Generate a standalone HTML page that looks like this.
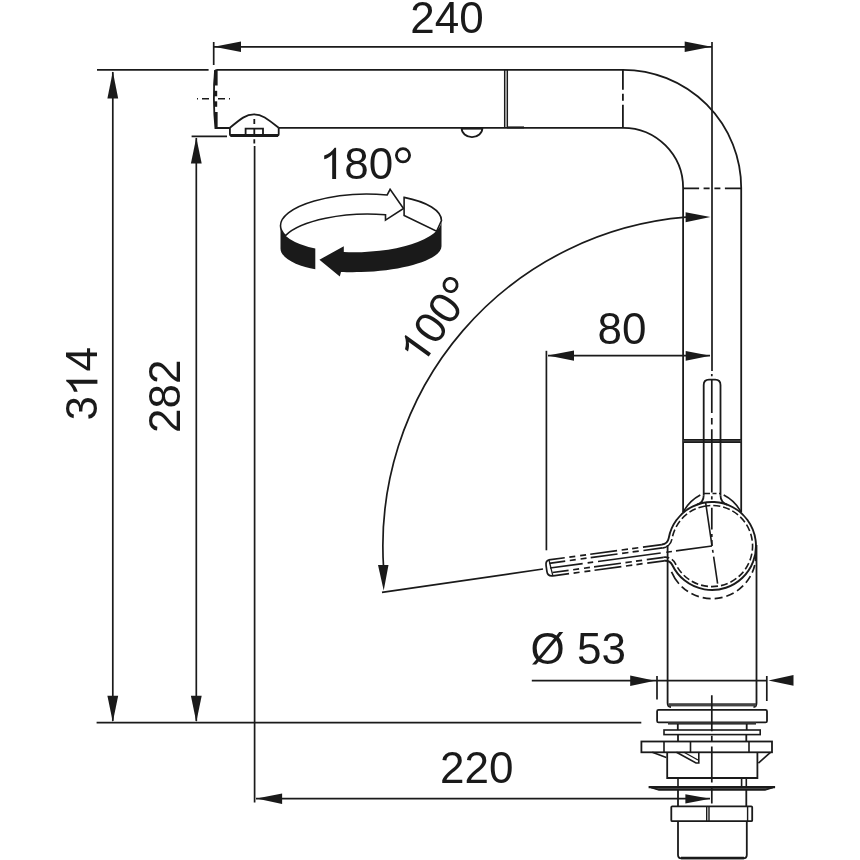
<!DOCTYPE html>
<html><head><meta charset="utf-8"><style>
html,body{margin:0;padding:0;background:#fff;width:860px;height:860px;overflow:hidden}
svg{display:block;will-change:transform}
text{font-family:"Liberation Sans",sans-serif;font-size:44px;fill:#1a1a1a}
</style></head><body>
<svg width="860" height="860" viewBox="0 0 860 860">
<rect width="860" height="860" fill="#fff"/>
<g fill="none" stroke="#1a1a1a" stroke-width="1.7" stroke-linecap="butt">
<!-- 240 dimension -->
<line x1="213.7" y1="42" x2="213.7" y2="65"/>
<line x1="214" y1="46.8" x2="712" y2="46.8"/>
<line x1="712" y1="42" x2="712" y2="371"/>
<!-- 314 -->
<line x1="97" y1="69.8" x2="208.6" y2="69.8"/>
<line x1="112.8" y1="72" x2="112.8" y2="721"/>
<line x1="96.6" y1="722.6" x2="641.3" y2="722.6"/>
<!-- 282 -->
<line x1="191.6" y1="136.4" x2="227" y2="136.4"/>
<line x1="196.3" y1="138" x2="196.3" y2="721"/>
<!-- 220 -->
<line x1="254.6" y1="146" x2="254.6" y2="802.4"/>
<line x1="256" y1="798.6" x2="710" y2="798.6"/>
<!-- 80 -->
<line x1="546.4" y1="350.8" x2="546.4" y2="550.3"/>
<line x1="548" y1="355.6" x2="710" y2="355.6"/>
<!-- 53 -->
<line x1="531.8" y1="680.7" x2="766.8" y2="680.7"/>
<line x1="657" y1="676" x2="657" y2="699.5"/>
<line x1="766.8" y1="676" x2="766.8" y2="701"/>
<!-- 100 deg arc -->
<path d="M 686 217.2 A 330 330 0 0 0 383.6 568"/>
<line x1="382" y1="592.3" x2="543" y2="569"/>
</g>
<g fill="#1a1a1a" stroke="none">
<polygon points="214,46.8 241,41.6 241,52.1"/>
<polygon points="711.5,46.8 684.7,41.5 684.7,52.1"/>
<polygon points="112.8,71.5 107.4,98.4 118.2,98.4"/>
<polygon points="112.8,722 107.4,695.8 118.2,695.8"/>
<polygon points="196.3,137.5 190.9,163.5 201.7,163.5"/>
<polygon points="196.3,722 190.9,695.8 201.7,695.8"/>
<polygon points="256.5,798.6 282.1,793.5 282.1,804"/>
<polygon points="710.2,798.8 685.4,794.2 685.4,803.5"/>
<polygon points="547.8,355.6 574,350.5 574,360.7"/>
<polygon points="710.3,355.8 685.7,350.9 685.7,360.8"/>
<polygon points="655,680.7 630.2,675.5 630.2,686"/>
<polygon points="768.4,680.5 793.5,675.1 793.5,685.8"/>
<polygon points="710.4,217.1 685.6,212.2 685.6,222.3"/>
<polygon points="383.7,590.5 378,565 388.5,565"/>
</g>

<!-- ===== FAUCET ===== -->
<g fill="none" stroke="#1a1a1a" stroke-width="1.8">
<!-- spout -->
<path d="M215 72 Q215 69.8 217.5 69.8 H623"/>
<path d="M215 70.5 Q212.6 99 215.4 128 H229.9"/>
<path d="M278.7 127.8 H623"/>
<line x1="504.7" y1="69.8" x2="504.7" y2="127.8" stroke-width="1.5"/>
<line x1="507.3" y1="69.8" x2="507.3" y2="127.8" stroke-width="1.5"/>
<path d="M461.6 128 A10.4 9.2 0 0 0 482.4 128"/>
<line x1="461.5" y1="128.4" x2="482.5" y2="128.4" stroke-width="2.4"/>
<line x1="507" y1="127.4" x2="524" y2="127.4" stroke-width="2"/>
<!-- aerator -->
<path d="M229.9 127.8 C241 118.5 246 114.4 254 114.4 C262 114.4 267 118.5 278.7 127.8"/>
<path d="M229.9 127.8 V134 Q229.9 135.8 232 135.8 H276.6 Q278.7 135.8 278.7 134 V127.8"/>
<line x1="230.5" y1="135.6" x2="278" y2="135.6" stroke-width="3"/>
<path d="M245.6 135.5 V128.7 H263 V135.5"/>
<line x1="254.3" y1="119" x2="254.3" y2="146" stroke-dasharray="5 4.8 5.6 4.8 4.2 3"/>
<line x1="197" y1="98.8" x2="231" y2="98.8" stroke-width="1.5" stroke-dasharray="1 4 7 9 7 4 1"/>
<!-- elbow -->
<path d="M623 69.8 A118.2 118.2 0 0 1 741.2 188"/>
<path d="M623 127.8 A60.1 60.1 0 0 1 683.1 188"/>
<line x1="622.9" y1="69.8" x2="622.9" y2="127.8" stroke-dasharray="20 4 7 4 100"/>
<line x1="683.1" y1="188.3" x2="741.2" y2="188.3" stroke-dasharray="16 4.5 6 4.8 6 4.5 20"/>
<!-- tube -->
<line x1="683.1" y1="188" x2="683.1" y2="512.5"/>
<line x1="741.2" y1="188" x2="741.2" y2="512.5"/>
<line x1="683.1" y1="440.9" x2="741.2" y2="440.9" stroke-width="3.7" stroke="#3a3a3a"/>
<line x1="683.1" y1="439.5" x2="741.2" y2="439.5" stroke-width="1.2"/>
<line x1="683.1" y1="442.3" x2="741.2" y2="442.3" stroke-width="1.2"/>
<!-- upright lever -->
<path d="M703.7 495.3 V385 Q703.7 379.6 709 379.6 H715.2 Q720.5 379.6 720.5 385 V495.3" stroke-width="1.8"/>
<path d="M703.7 495.2 A10 10 0 0 1 697.1 504.6" stroke-width="1.8"/>
<path d="M720.5 495.27 A10 10 0 0 0 727.07 504.67" stroke-width="1.8"/>
<line x1="704" y1="493.5" x2="720.3" y2="493.5" stroke-width="1.4" stroke-dasharray="6 2.5 4 2.5 6"/>
<line x1="711.8" y1="371" x2="711.8" y2="546" stroke-width="1.7" stroke-dasharray="0 3 2.3 2.9 33.7 5.2 6.4 4.7 63.2 3.9 3.2 8.3 21.7 4.5 3 3 20"/>
<!-- ball -->
<path d="M683.1 512.5 A40 40 0 0 1 700.3 495" stroke-width="1.7"/>
<path d="M723.7 495 A40 40 0 0 1 741.2 512.5" stroke-width="1.7"/>
<path d="M671.5 571.9 A44 44 0 0 0 755.78 550.35" stroke-width="1.7" stroke-dasharray="14 4 8 4 8 4 8 4 8 4 8 4 8 4 8 4 8 4 20"/>
<line x1="705.6" y1="502.3" x2="717.6" y2="583.6" stroke-width="1.6" stroke-dasharray="44 4 3 4 40"/>
<!-- lower body -->
<path d="M667.6 545 V703 Q667.6 707 671 707"/>
<path d="M756.5 545 V703 Q756.5 707 753.5 707"/>
<rect x="668.5" y="703.2" width="87.5" height="3.2" fill="#444" stroke="none"/>
<rect x="657.1" y="709.8" width="109.9" height="12.6" rx="1.5"/>
<rect x="668" y="722" width="88" height="2.6" fill="#333" stroke="none"/>
<path d="M677.8 724 V730 M746.7 724 V730"/>
<rect x="664" y="730" width="96.2" height="4.6" stroke-width="1.6"/>
<path d="M678 734.6 V741.5 M746.3 734.6 V741.5"/>
<rect x="641.4" y="741.5" width="130.6" height="10.8"/>
<path d="M664 741.5 V752.3 M690.5 741.5 V752.3 M749 741.5 V752.3" stroke-width="1.6"/>
<path d="M652.3 752.3 L666.3 757.5" stroke-width="1.6"/>
<path d="M676.5 752.3 L696 763 H698.8 V752.3" stroke-width="1.6"/>
<path d="M684 752.3 L698 760" stroke-width="1.3"/>
<path d="M770.5 752.3 L758.4 763.1" stroke-width="1.6"/>
<path d="M667.2 752.3 V778 H757.4 V752.3"/>
<path d="M678 778 V786.5 M746.3 778 V786.5 M741.6 778 V786.5" stroke-width="1.6"/>
<path d="M648.6 787.4 H775.1 L765 789.9 H659 Z" fill="#555" stroke="none"/><line x1="648.6" y1="787.1" x2="775.1" y2="787.1" stroke-width="2.4"/><path d="M651 787.5 L659 789.9 H765 L773 787.5" stroke-width="1.6"/>
<path d="M678 790 V806.3 M746.3 790 V806.3"/>
<rect x="671.3" y="806.3" width="80.9" height="14.9" rx="1"/>
<path d="M706.7 806.3 V821.2 M709 806.3 V821.2 M747.6 806.3 V821.2" stroke-width="1.4"/>
<path d="M678 821.2 V855 Q678 858.3 681.5 858.3 H743.3 Q746.8 858.3 746.8 855 V821.2"/>
<line x1="681" y1="858" x2="744" y2="858" stroke-width="2.6"/>
<line x1="711.8" y1="695.3" x2="711.8" y2="803.4" stroke-width="1.7" stroke-dasharray="35.9 4.6 5.6 5.1 36 5.5 20"/>
</g>
<!-- spout left end fills -->
<g fill="#1a1a1a">
<path d="M214.3 70 H217.6 V85.6 H213.7 Z"/>
<rect x="214" y="90.8" width="3.2" height="5.5"/>
<rect x="214" y="101.3" width="3.2" height="5.5"/>
<path d="M214 111.9 H217.6 V128 H215.4 Z"/>
</g>
<!-- lowered lever + ball -->
<g transform="translate(546.5 568.5) rotate(-7.74)" fill="none" stroke="#1a1a1a" stroke-width="1.7">
<path d="M117.6 -8.2 A8 8 0 0 0 125.2 -13.7 A44 44 0 1 1 125.2 13.7 A8 8 0 0 0 117.6 8.2" stroke-width="1.9"/>
<path d="M117.5 -4.6 A11.4 11.4 0 0 0 128.37 -12.49 A40.6 40.6 0 1 1 128.37 12.49 A11.4 11.4 0 0 0 117.5 4.6" stroke-width="1.6" stroke-dasharray="14 3 7 3 7 3 7 3 7 3 12 3 7 3 7 3 7 3 7 3 7 3 7 3 7 3 7 3 7 3 7 3 7 3 7 3 7 3 7 3 7 3 7 3 7 3 7 3 7 3 7 3 14"/>
<path d="M4 -8.2 Q0 -8.2 0 -3 V3 Q0 8.2 5.5 8.2"/>
<line x1="3.6" y1="-8" x2="5.3" y2="8" stroke-width="1.3"/>
<line x1="3.4" y1="-8.2" x2="117.6" y2="-8.2" stroke-dasharray="16.15 4.6 6 4.9 6 4.2 27.1 4.6 6.4 4.2 6.2 4.7 40"/>
<line x1="3.4" y1="-4.8" x2="117.6" y2="-4.8" stroke-dasharray="16.15 4.6 6 4.9 6 4.2 27.1 4.6 6.4 4.2 6.2 4.7 40"/>
<line x1="3.5" y1="0" x2="167" y2="0" stroke-width="1.6" stroke-dasharray="33 5 5.6 4.9 63.3 5.6 5.7 4.1 40"/>
<line x1="5.5" y1="4.8" x2="117.6" y2="4.8" stroke-dasharray="16.15 4.6 6 4.9 6 4.2 27.1 4.6 6.4 4.2 6.2 4.7 40"/>
<line x1="5.5" y1="8.2" x2="117.6" y2="8.2" stroke-dasharray="16.15 4.6 6 4.9 6 4.2 27.1 4.6 6.4 4.2 6.2 4.7 40"/>
</g>
<!-- rotation icon -->
<g transform="translate(361 223.2) skewY(-1.8)" stroke="#1a1a1a" stroke-width="1.6" stroke-linejoin="miter">
<path d="M-80.5 0 A80.5 29 0 0 1 26.2 -27.42 L29.1 -33 L42.5 -13.37 L24.5 -2.33 L24.5 -7.62 A80.5 29 0 0 0 -75.56 10 A80.5 29 0 0 1 -80.5 0 Z" fill="#fff"/>
<path d="M43.1 -24.49 A80.5 29 0 0 1 80.5 0 L75.6 10.4 L43.1 -6.35 Z" fill="#fff"/>
<path d="M-80.5 0 A80.5 29 0 0 0 -45.7 23.9 V44.5 C-62 41.5 -80.5 33 -80.5 22.7 Z" fill="#1a1a1a" stroke="none"/>
<path d="M-41.6 35.2 L-17.2 22.56 L-17.2 28.33 A80.5 29 0 0 0 80.5 0 V25.6 C80.5 38.47 44.46 48.9 0 48.9 C-6 48.9 -14 48.6 -20 48.2 L-21.2 52.6 Z" fill="#1a1a1a" stroke="none"/>
</g>
<!-- degree labels -->
<g transform="translate(319.8 179)"><path d="M16.3 0 V-31.2 H14.8 C12.3 -27.5 8.9 -25 4.4 -23.4 V-19.7 C7.9 -20.8 10.7 -22.6 12.4 -24.6 V0 Z" fill="#1a1a1a"/><text x="24.46" y="0">80</text></g>
<circle cx="403" cy="155.3" r="6.6" fill="none" stroke="#1a1a1a" stroke-width="2.8"/>
<g transform="translate(421.5 366.5) rotate(-54.5)">
<path d="M16.3 0 V-31.2 H14.8 C12.3 -27.5 8.9 -25 4.4 -23.4 V-19.7 C7.9 -20.8 10.7 -22.6 12.4 -24.6 V0 Z" fill="#1a1a1a"/><text x="24.46" y="0">00</text>
<circle cx="83.2" cy="-23.7" r="6.6" fill="none" stroke="#1a1a1a" stroke-width="2.8"/>
</g>
<text x="530.5" y="664">Ø 53</text>
<!-- texts -->
<text x="410.3" y="33.1">240</text>
<text x="597.5" y="344.2">80</text>
<text x="440" y="782.6">220</text>
<g transform="translate(97.4 420.5) rotate(-90)"><text x="0" y="0">3</text><path transform="translate(24.46 0)" d="M16.3 0 V-31.2 H14.8 C12.3 -27.5 8.9 -25 4.4 -23.4 V-19.7 C7.9 -20.8 10.7 -22.6 12.4 -24.6 V0 Z" fill="#1a1a1a"/><text x="48.93" y="0">4</text></g>
<text transform="translate(180,433) rotate(-90)">282</text>
</svg>
</body></html>
